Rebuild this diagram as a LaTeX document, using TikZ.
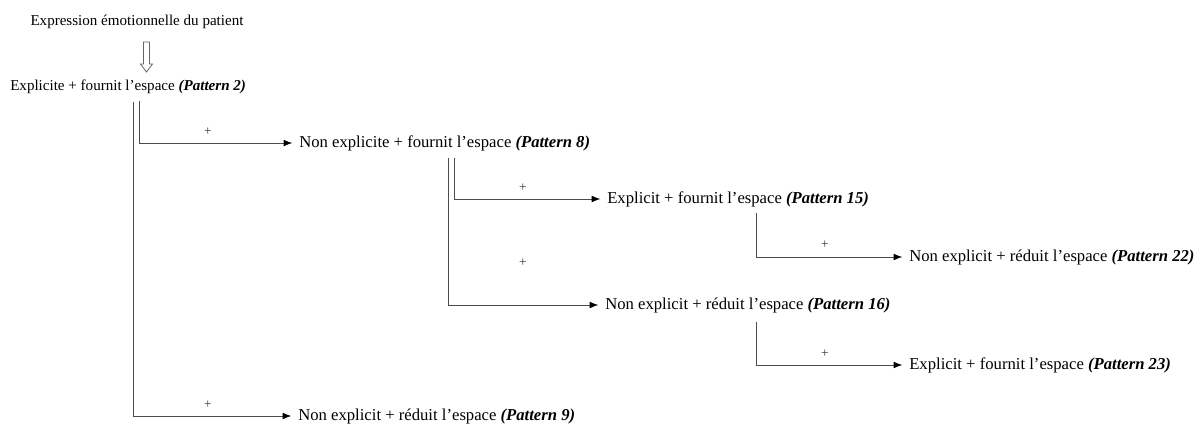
\documentclass[tikz,border=0pt]{standalone}
\usepackage{fontspec}
\setmainfont{Liberation Serif}
\usetikzlibrary{arrows.meta}
\newcommand{\pat}[1]{\textbf{\textit{(Pattern #1)}}}
\begin{document}
\begin{tikzpicture}
  [x=0.75pt,y=-0.75pt,every node/.style={inner sep=0pt,font=\fontsize{12.5}{15}\selectfont}]
  \tikzstyle{pat} = [anchor=west]
  \tikzstyle{small} = [font=\fontsize{11.3}{13}\selectfont]
  \tikzstyle{conn} = [draw=black!70,line width=0.6pt,-{Latex[length=6.5pt,width=5pt,color=black]},shorten >=5pt]
  \tikzstyle{plus} = [font=\fontsize{10}{12}\selectfont,text=black!80]
  \useasboundingbox (0,0) rectangle (1200,430);
  \node[small] (title) at (137,22) {Expression émotionnelle du patient};
  \node[pat,small] (p2) at (10,87) {Explicite + fournit l’espace \pat{2}};
  \node[pat] (p8)  at (299,143) {Non explicite + fournit l’espace \pat{8}};
  \node[pat] (p15) at (607,199) {Explicit + fournit l’espace \pat{15}};
  \node[pat] (p16) at (605,305) {Non explicit + réduit l’espace \pat{16}};
  \node[pat] (p22) at (909,257) {Non explicit + réduit l’espace \pat{22}};
  \node[pat] (p23) at (909,365) {Explicit + fournit l’espace \pat{23}};
  \node[pat] (p9)  at (298,416) {Non explicit + réduit l’espace \pat{9}};
  % hollow arrow under the title
  \draw[black!60,line width=0.6pt] (143.5,42) -- (149.5,42) -- (149.5,64) -- (152.5,64)
    -- (146.5,72) -- (140.5,64) -- (143.5,64) -- cycle;
  \coordinate (s8)  at (139,101);
  \coordinate (s9)  at (133,102);
  \coordinate (s15) at (454.5,158);
  \coordinate (s16) at (448.5,158);
  \coordinate (s22) at (756,213);
  \coordinate (s23) at (756,322);
  \foreach \source/\dest in {s8/p8,s9/p9,s15/p15,s16/p16,s22/p22,s23/p23}
    \draw[conn] (\source) |- (\dest);
  \foreach \x/\y [count=\i] in {208/132,208/405,523/188,523/263,825/245,825/354}
    \node[plus] (plus\i) at (\x,\y) {+};
\end{tikzpicture}
\end{document}
